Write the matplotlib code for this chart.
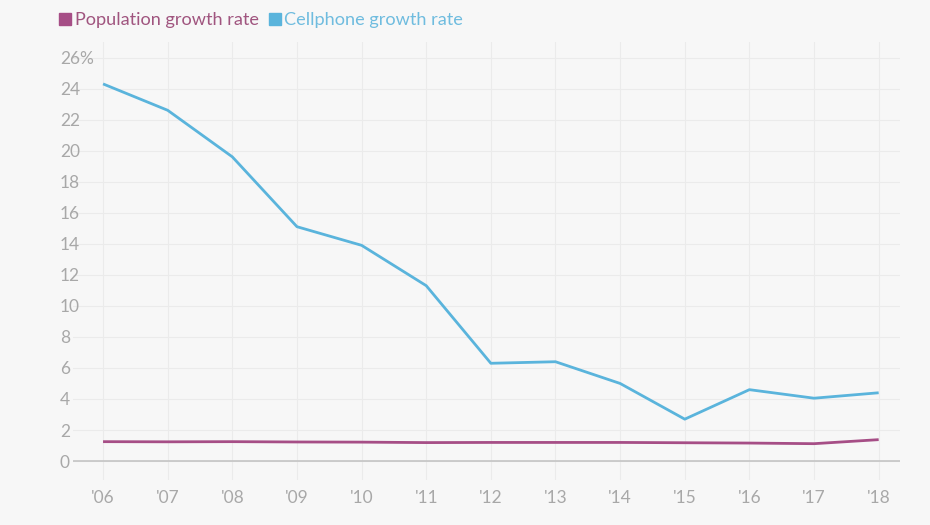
import matplotlib
matplotlib.use('Agg')
import matplotlib.pyplot as plt
from matplotlib.lines import Line2D

# Data
years = ["'06", "'07", "'08", "'09", "'10", "'11", "'12", "'13", "'14", "'15", "'16", "'17", "'18"]
cellphone_growth = [24.3, 22.6, 19.6, 15.1, 13.9, 11.3, 6.3, 6.4, 5.0, 2.7, 4.6, 4.05, 4.4]
population_growth = [1.25, 1.24, 1.25, 1.23, 1.22, 1.19, 1.2, 1.2, 1.2, 1.18, 1.16, 1.12, 1.38]
y_ticks = [0, 2, 4, 6, 8, 10, 12, 14, 16, 18, 20, 22, 24, 26]

bg = '#f7f7f7'
blue = '#5ab4dc'
purple = '#a64e86'
tick_grey = '#a8a8a8'

plt.rcParams['font.family'] = ['Lato', 'DejaVu Sans']

fig = plt.figure(figsize=(9.3, 5.25), dpi=100, facecolor=bg)
# axes box in pixels: left 73, right 900, top 42, bottom 480
ax = fig.add_axes([73 / 930, 1 - 480 / 525, (900 - 73) / 930, (480 - 42) / 525])
ax.set_facecolor(bg)

x = list(range(len(years)))
ax.plot(x, population_growth, color=purple, linewidth=2.0, solid_capstyle='butt', zorder=3)
ax.plot(x, cellphone_growth, color=blue, linewidth=2.0, solid_capstyle='butt', zorder=3)

ax.set_xlim(-0.465, 12.33)
ax.set_ylim(-1.22, 27.0)

ax.set_xticks(x)
ax.set_xticklabels(years)
ax.set_yticks(y_ticks)
ax.set_yticklabels([str(v) if v != 26 else '26%' for v in y_ticks])

for s in ax.spines.values():
    s.set_visible(False)
ax.axhline(0, color='#c4c4c4', linewidth=1.2, zorder=2)

ax.grid(True, color='#ebebeb', linewidth=0.8, zorder=0)
ax.tick_params(axis='both', length=0, colors=tick_grey, labelsize=12.5)
ax.tick_params(axis='x', pad=7)
ax.tick_params(axis='y', pad=9.5)
for lab in ax.get_yticklabels():
    lab.set_horizontalalignment('left')

handles = [
    Line2D([], [], marker='s', linestyle='none', color=purple, markersize=8),
    Line2D([], [], marker='s', linestyle='none', color=blue, markersize=8),
]
leg = fig.legend(handles, ['Population growth rate', 'Cellphone growth rate'],
                 loc='upper left', bbox_to_anchor=(60 / 930, 1 - 12 / 525), ncol=2,
                 frameon=False, handlelength=0.6, handletextpad=0.2,
                 columnspacing=0.6, borderaxespad=0, borderpad=0,
                 labelcolor=['#a0557f', '#6fbcdf'], prop={'size': 13.1})

plt.savefig('out.png', dpi=100, facecolor=bg)
